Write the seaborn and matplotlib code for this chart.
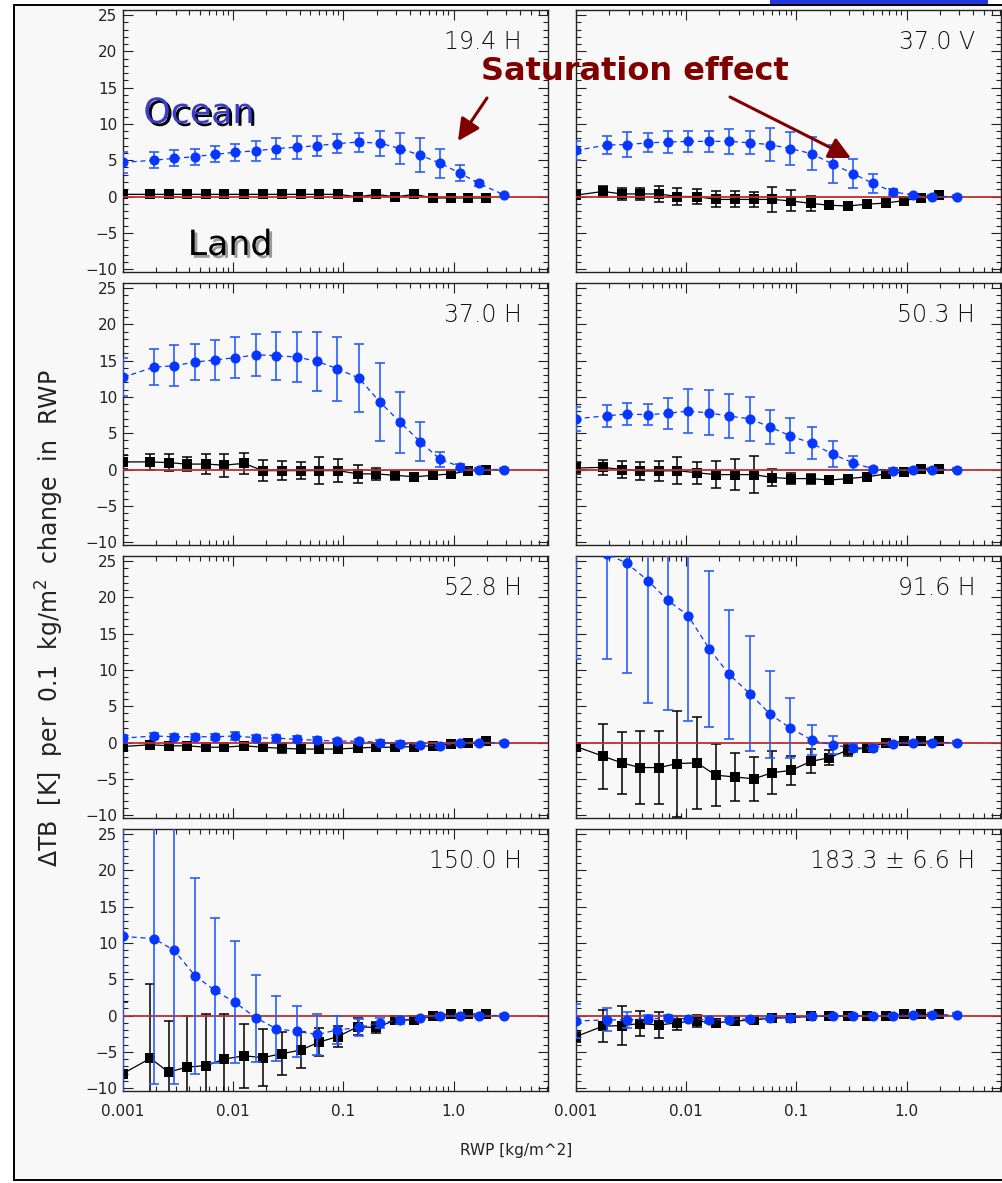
import numpy as np
import pandas as pd
import matplotlib
matplotlib.use("Agg")
import matplotlib.pyplot as plt
import matplotlib.patheffects as pe
from matplotlib.patches import Rectangle, FancyArrowPatch, ArrowStyle
from matplotlib.ticker import FixedLocator, FixedFormatter, MultipleLocator, LogLocator, NullFormatter
import seaborn as sns

# ---------------------------------------------------------------- data
# RWP bin centres [kg/m^2]
rwp_ocean = [0.001, 0.0019, 0.0029, 0.0045, 0.0068, 0.0104, 0.0162, 0.0245, 0.0378, 0.0578,
             0.088, 0.138, 0.215, 0.328, 0.497, 0.755, 1.15, 1.70, 2.90]
rwp_land = [0.001, 0.00177, 0.0026, 0.0038, 0.0057, 0.0083, 0.0125, 0.0186, 0.0279, 0.0412,
            0.0604, 0.0891, 0.1355, 0.1986, 0.2965, 0.4416, 0.650, 0.955, 1.35, 1.99]

channels = ["19.4 H", "37.0 V", "37.0 H", "50.3 H", "52.8 H", "91.6 H", "150.0 H", "183.3 \u00b1 6.6 H"]

# 19.4 H
ocean_194h = [4.7, 5.0, 5.25, 5.5, 5.8, 6.1, 6.3, 6.6, 6.8, 7.0, 7.3, 7.5, 7.35, 6.6, 5.7, 4.6, 3.2, 1.8, 0.2]
ocean_194h_err = [1.4, 1.1, 1.1, 1.1, 1.1, 1.2, 1.4, 1.4, 1.6, 1.4, 1.35, 1.3, 1.7, 2.1, 2.3, 2.0, 1.1, 0.4, 0.2]
land_194h = [0.3, 0.3, 0.3, 0.3, 0.3, 0.3, 0.3, 0.3, 0.3, 0.3, 0.3, 0.3, -0.05, 0.3, -0.05, 0.3, -0.2, -0.2, -0.2, -0.2]
land_194h_err = [0.25] * 20

# 37.0 V
ocean_370v = [6.35, 7.1, 7.15, 7.4, 7.5, 7.6, 7.6, 7.6, 7.4, 7.15, 6.6, 5.9, 4.45, 3.15, 1.8, 0.65, 0.2, 0.0, 0.0]
ocean_370v_err = [1.35, 1.3, 1.7, 1.3, 1.5, 1.4, 1.4, 1.7, 1.6, 2.3, 2.3, 2.3, 2.6, 2.0, 1.3, 0.4, 0.2, 0.2, 0.2]
land_370v = [0.2, 0.7, 0.35, 0.35, 0.35, 0.0, 0.0, -0.4, -0.4, -0.4, -0.4, -0.6, -0.95, -1.2, -1.3, -1.05, -0.9, -0.55, -0.15, 0.15]
land_370v_err = [0.6, 0.8, 0.8, 0.8, 1.1, 1.2, 1.05, 1.1, 1.1, 1.05, 1.7, 1.45, 1.05, 0.3, 0.3, 0.3, 0.3, 0.3, 0.3, 0.2]

# 37.0 H
ocean_370h = [12.7, 14.1, 14.3, 14.8, 15.1, 15.4, 15.8, 15.7, 15.5, 14.9, 13.9, 12.6, 9.3, 6.5, 3.85, 1.4, 0.4, 0.0, 0.0]
ocean_370h_err = [2.6, 2.5, 2.8, 2.5, 2.7, 2.8, 2.9, 3.3, 3.4, 4.1, 4.4, 4.7, 5.35, 4.2, 2.7, 1.0, 0.3, 0.2, 0.2]
land_370h = [1.05, 1.05, 0.95, 0.75, 0.75, 0.6, 0.85, -0.15, -0.15, -0.15, -0.15, -0.15, -0.6, -0.6, -0.8, -1.0, -0.8, -0.6, -0.2, 0.0]
land_370h_err = [1.0, 1.1, 1.15, 1.0, 1.4, 1.6, 1.4, 1.4, 1.35, 1.2, 1.9, 1.6, 1.25, 0.8, 0.65, 0.4, 0.3, 0.3, 0.2, 0.2]

# 50.3 H
ocean_503h = [7.0, 7.4, 7.65, 7.55, 7.75, 8.05, 7.8, 7.35, 7.0, 5.85, 4.65, 3.6, 2.1, 0.9, 0.1, -0.15, 0.0, 0.0, 0.0]
ocean_503h_err = [1.65, 1.55, 1.55, 1.45, 2.1, 3.0, 3.1, 3.0, 3.05, 2.3, 2.4, 2.2, 1.8, 0.9, 0.3, 0.3, 0.2, 0.2, 0.2]
land_503h = [0.2, 0.3, 0.0, -0.2, -0.2, -0.15, -0.45, -0.7, -0.7, -0.7, -1.1, -1.25, -1.25, -1.45, -1.25, -1.0, -0.6, -0.35, 0.1, 0.1]
land_503h_err = [0.8, 1.05, 1.2, 1.2, 1.4, 1.9, 1.5, 1.85, 2.1, 2.6, 1.15, 0.8, 0.7, 0.3, 0.3, 0.3, 0.3, 0.3, 0.2, 0.2]

# 52.8 H
ocean_528h = [0.6, 0.9, 0.8, 0.8, 0.8, 0.9, 0.65, 0.6, 0.45, 0.3, 0.2, 0.2, 0.0, -0.15, -0.35, -0.45, -0.1, -0.1, 0.0]
ocean_528h_err = [0.5, 0.4, 0.4, 0.4, 0.4, 0.5, 0.4, 0.5, 0.4, 0.4, 0.3, 0.3, 0.3, 0.3, 0.3, 0.3, 0.2, 0.2, 0.2]
land_528h = [-0.55, -0.3, -0.45, -0.45, -0.65, -0.65, -0.45, -0.65, -0.8, -0.9, -0.9, -0.9, -0.75, -0.65, -0.65, -0.55, -0.45, -0.2, -0.1, 0.15]
land_528h_err = [0.6, 0.4, 0.4, 0.4, 0.4, 0.5, 0.4, 0.4, 0.7, 0.4, 0.4, 0.4, 0.3, 0.3, 0.3, 0.3, 0.3, 0.2, 0.2, 0.2]

# 91.6 H
ocean_916h = [27.0, 26.0, 24.7, 22.3, 19.6, 17.5, 12.9, 9.4, 6.75, 3.9, 2.0, 0.35, -0.35, -0.75, -0.75, -0.15, 0.0, 0.0, 0.0]
ocean_916h_err = [15.5, 14.5, 15.1, 16.9, 15.1, 14.5, 10.8, 8.9, 7.9, 6.0, 4.2, 2.1, 1.2, 0.6, 0.4, 0.2, 0.2, 0.2, 0.2]
land_916h = [-0.55, -1.9, -2.8, -3.45, -3.45, -2.9, -2.8, -4.5, -4.75, -5.0, -4.15, -3.85, -2.6, -2.1, -1.0, -0.75, 0.0, 0.15, 0.15, 0.15]
land_916h_err = [0.3, 4.45, 4.3, 5.0, 5.0, 7.3, 6.3, 4.3, 3.3, 3.05, 3.0, 2.05, 1.65, 1.05, 0.8, 0.5, 0.3, 0.2, 0.2, 0.2]

# 150.0 H
ocean_1500h = [10.9, 10.6, 9.0, 5.5, 3.45, 1.8, -0.35, -1.8, -2.2, -2.6, -2.0, -1.65, -1.0, -0.65, -0.35, -0.1, 0.0, 0.0, 0.0]
ocean_1500h_err = [24.0, 20.0, 18.5, 13.5, 10.0, 8.4, 6.0, 4.45, 3.55, 2.8, 1.9, 1.2, 0.7, 0.5, 0.3, 0.3, 0.2, 0.2, 0.2]
land_1500h = [-8.0, -5.9, -7.8, -7.1, -6.9, -6.0, -5.55, -5.8, -5.25, -4.75, -3.65, -2.9, -1.55, -1.65, -0.65, -0.6, -0.1, 0.2, 0.2, 0.2]
land_1500h_err = [9.8, 10.2, 7.0, 7.0, 7.1, 6.2, 4.45, 3.9, 3.0, 2.5, 1.9, 1.5, 1.2, 0.8, 0.5, 0.4, 0.3, 0.2, 0.2, 0.2]

# 183.3 +/- 6.6 H
ocean_1833h = [-0.75, -0.6, -0.6, -0.45, -0.35, -0.45, -0.6, -0.55, -0.45, -0.3, -0.3, -0.1, -0.1, 0.0, 0.0, 0.0, 0.1, 0.1, 0.1]
ocean_1833h_err = [2.4, 1.6, 1.1, 0.5, 0.4, 0.4, 0.4, 0.4, 0.3, 0.3, 0.3, 0.2, 0.2, 0.2, 0.2, 0.2, 0.2, 0.2, 0.2]
land_1833h = [-2.9, -1.45, -1.4, -1.1, -1.3, -1.0, -0.75, -1.0, -0.75, -0.6, -0.35, -0.3, -0.1, -0.1, -0.1, -0.1, -0.1, 0.15, 0.15, 0.15]
land_1833h_err = [0.8, 2.25, 2.7, 1.75, 1.85, 0.95, 0.8, 0.5, 0.4, 0.3, 0.3, 0.3, 0.2, 0.2, 0.2, 0.2, 0.2, 0.2, 0.2, 0.2]

ocean_series = [(ocean_194h, ocean_194h_err), (ocean_370v, ocean_370v_err), (ocean_370h, ocean_370h_err),
                (ocean_503h, ocean_503h_err), (ocean_528h, ocean_528h_err), (ocean_916h, ocean_916h_err),
                (ocean_1500h, ocean_1500h_err), (ocean_1833h, ocean_1833h_err)]
land_series = [(land_194h, land_194h_err), (land_370v, land_370v_err), (land_370h, land_370h_err),
               (land_503h, land_503h_err), (land_528h, land_528h_err), (land_916h, land_916h_err),
               (land_1500h, land_1500h_err), (land_1833h, land_1833h_err)]

xtick_vals = [0.001, 0.01, 0.1, 1.0]
xtick_text = ["0.001", "0.01", "0.1", "1.0"]

# ---------------------------------------------------------------- style
sns.set_style("ticks")
plt.rcParams["font.family"] = ["DejaVu Sans"]
plt.rcParams["axes.unicode_minus"] = True

W, H = 1002, 1183
BG = "#f8f8f8"
OCEAN_C = "#0636ff"
OCEAN_BAR = "#2a5cff"
ZERO_C = "#b83030"
SAT_C = "#800000"

fig = plt.figure(figsize=(W / 100, H / 100), dpi=100, facecolor="white")


def fx(px):
    return px / W


def fy(py):
    return 1 - py / H


# slide frame, kept behind the panels
fig.patches.append(Rectangle((fx(770), fy(5)), fx(218), 5 / H, transform=fig.transFigure,
                             facecolor="#2436e0", edgecolor="none", zorder=-2))
fig.patches.append(Rectangle((fx(14), fy(1180)), fx(1010), (1180 - 5) / H, transform=fig.transFigure,
                             facecolor=BG, edgecolor="black", linewidth=1.4, zorder=-1))

col_left = [123, 576]
row_top = [10, 283, 556, 829]
ax_w, ax_h = 425, 262

for i, ch in enumerate(channels):
    r, c = divmod(i, 2)
    left, top = col_left[c], row_top[r]
    ax = fig.add_axes([fx(left), fy(top + ax_h), ax_w / W, ax_h / H])
    ax.set_facecolor(BG)
    ax.set_xscale("log")

    ly, le = land_series[i]
    oy, oe = ocean_series[i]
    land_df = pd.DataFrame({"rwp": rwp_land, "dtb": ly})
    ocean_df = pd.DataFrame({"rwp": rwp_ocean, "dtb": oy})

    # land: black squares on a solid line
    ax.errorbar(rwp_land, ly, yerr=le, fmt="none", ecolor="black", elinewidth=1.1,
                capsize=3.5, capthick=1.1, zorder=2)
    sns.lineplot(data=land_df, x="rwp", y="dtb", ax=ax, color="black", marker="s",
                 markersize=7, markeredgewidth=0, linewidth=0.9, estimator=None,
                 sort=False, zorder=3)

    # zero line
    ax.axhline(0, color=ZERO_C, linewidth=1.3, zorder=4)

    # ocean: blue dots on a dashed line
    ax.errorbar(rwp_ocean, oy, yerr=oe, fmt="none", ecolor=OCEAN_BAR, elinewidth=1.2,
                capsize=3.5, capthick=1.2, zorder=5)
    sns.lineplot(data=ocean_df, x="rwp", y="dtb", ax=ax, color=OCEAN_C, marker="o",
                 markersize=7.3, markeredgewidth=0, linewidth=0.9, linestyle=(0, (4, 3)),
                 estimator=None, sort=False, zorder=6)

    ax.set_xlim(0.001, 7.2)
    ax.set_ylim(-10.4, 25.7)
    ax.set_xlabel("")
    ax.set_ylabel("")

    ax.xaxis.set_major_locator(FixedLocator(xtick_vals))
    ax.xaxis.set_major_formatter(FixedFormatter(xtick_text))
    ax.xaxis.set_minor_locator(LogLocator(base=10, subs=np.arange(2, 10), numticks=30))
    ax.xaxis.set_minor_formatter(NullFormatter())
    ax.yaxis.set_major_locator(MultipleLocator(5))
    ax.yaxis.set_minor_locator(MultipleLocator(1))

    ax.tick_params(which="both", direction="in", top=True, right=True, colors="#222222",
                   labelsize=11, width=0.8)
    ax.tick_params(which="major", length=7)
    ax.tick_params(which="minor", length=3.5)
    ax.tick_params(axis="x", pad=9)
    ax.tick_params(axis="y", pad=4)
    ax.tick_params(labelleft=(c == 0), labelbottom=(r == 3))
    for s in ax.spines.values():
        s.set_color("#222222")
        s.set_linewidth(1.0)

    ax.text(1 - 26 / ax_w, 1 - 32 / ax_h, ch, transform=ax.transAxes, ha="right", va="center",
            fontsize=17, color="#111111", fontweight="light")

# axis titles
fig.text(fx(50), fy(618), "\u0394TB  [K]  per  0.1  kg/m$^2$  change  in  RWP", rotation=90,
         ha="center", va="center", fontsize=17, color="#222222")
fig.text(fx(516), fy(1150), "RWP [kg/m^2]", ha="center", va="center", fontsize=11, color="#222222")

# annotations
fig.text(fx(199), fy(113), "Ocean", ha="center", va="center", fontsize=25, color="#3a3acc",
         path_effects=[pe.withSimplePatchShadow(offset=(2, -2), shadow_rgbFace="black", alpha=1)])
fig.text(fx(230), fy(245), "Land", ha="center", va="center", fontsize=25, color="black",
         path_effects=[pe.withSimplePatchShadow(offset=(2, -2), shadow_rgbFace="#9a9a9a", alpha=1)])
fig.text(fx(635), fy(72), "Saturation effect", ha="center", va="center", fontsize=23,
         fontweight="bold", color=SAT_C)

head = ArrowStyle("-|>", head_length=1.1, head_width=0.55)
for (x0, y0), (x1, y1) in [((487, 98), (458, 141)), ((730, 97), (851, 158))]:
    fig.add_artist(FancyArrowPatch((fx(x0), fy(y0)), (fx(x1), fy(y1)), transform=fig.transFigure,
                                   arrowstyle=head, mutation_scale=12, color=SAT_C, linewidth=2.2,
                                   shrinkA=0, shrinkB=0, zorder=10))

fig.savefig("out.png", dpi=100, facecolor="white")
